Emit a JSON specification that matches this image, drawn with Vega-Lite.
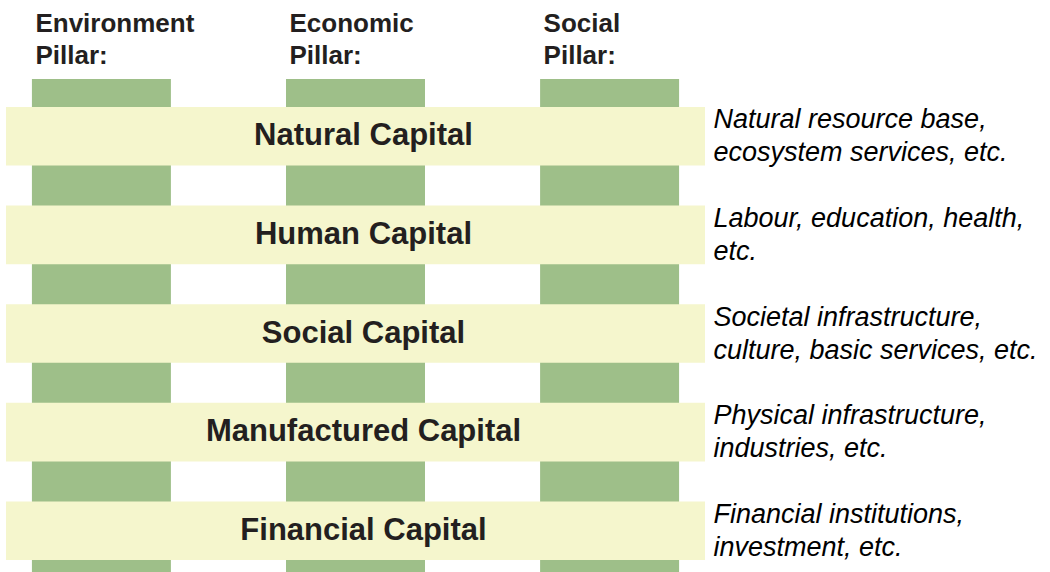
{
  "$schema": "https://vega.github.io/schema/vega-lite/v6.json",
  "width": 699,
  "height": 493,
  "autosize": "none",
  "padding": {"left": 6, "top": 79, "right": 345, "bottom": 0},
  "background": "white",
  "config": {"view": {"stroke": null}},
  "layer": [
    {
      "data": {"values": [
        {"pillar": "Environment Pillar:"},
        {"pillar": "Economic Pillar:"},
        {"pillar": "Social Pillar:"}
      ]},
      "mark": {"type": "rect", "color": "#9ebf89"},
      "encoding": {
        "x": {
          "field": "pillar", "type": "nominal", "sort": null,
          "scale": {"paddingInner": 0.453, "paddingOuter": 0.102},
          "axis": {
            "orient": "top", "title": null, "domain": false, "ticks": false, "tickSize": 0,
            "labelAngle": 0, "labelAlign": "left", "labelOffset": -66,
            "labelExpr": "split(datum.label, ' ')",
            "labelFont": "Liberation Sans", "labelFontSize": 26, "labelFontWeight": "bold",
            "labelColor": "#231f20", "labelLineHeight": 32, "labelBaseline": "bottom",
            "labelPadding": 43, "labelLimit": 400, "labelOverlap": false, "labelBound": false
          }
        }
      }
    },
    {
      "data": {"name": "capitals", "values": [
        {"capital": "Natural Capital", "description": "Natural resource base,\necosystem services, etc."},
        {"capital": "Human Capital", "description": "Labour, education, health,\netc."},
        {"capital": "Social Capital", "description": "Societal infrastructure,\nculture, basic services, etc."},
        {"capital": "Manufactured Capital", "description": "Physical infrastructure,\nindustries, etc."},
        {"capital": "Financial Capital", "description": "Financial institutions,\ninvestment, etc."}
      ]},
      "layer": [
        {
          "mark": {"type": "rect", "color": "#f5f6cd"},
          "encoding": {
            "y": {
              "field": "description", "type": "nominal", "sort": null,
              "scale": {"paddingInner": 0.406, "paddingOuter": 0.203, "align": 0.7},
              "axis": {
                "orient": "right", "title": null, "domain": false, "ticks": false, "tickSize": 0,
                "labelExpr": "split(datum.label, '\\n')",
                "labelAlign": "left", "labelBaseline": "middle", "labelPadding": 8, "labelOffset": -16,
                "labelFont": "Liberation Sans", "labelFontSize": 27, "labelFontStyle": "italic",
                "labelColor": "#000000", "labelLineHeight": 33, "labelLimit": 400,
                "labelOverlap": false, "labelBound": false
              }
            }
          }
        },
        {
          "mark": {"type": "text", "font": "Liberation Sans", "fontSize": 31, "fontWeight": "bold", "color": "#231f20", "baseline": "middle", "align": "center", "dx": 8},
          "encoding": {
            "y": {"field": "description", "type": "nominal", "sort": null},
            "text": {"field": "capital", "type": "nominal"}
          }
        }
      ]
    }
  ]
}
